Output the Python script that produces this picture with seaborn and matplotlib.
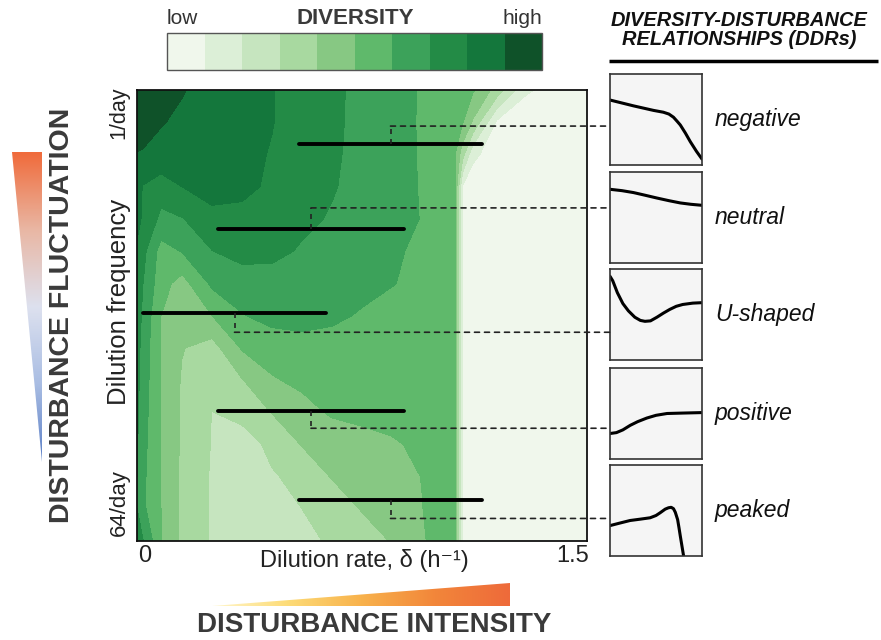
import matplotlib
matplotlib.use("Agg")
import matplotlib.pyplot as plt
import numpy as np
import seaborn as sns
from matplotlib import transforms
from matplotlib.colors import LinearSegmentedColormap
from matplotlib.patches import ConnectionPatch, Polygon

sns.set_theme(style="white")
plt.rcParams["font.family"] = ["Liberation Sans", "DejaVu Sans"]

# ---------------------------------------------------------------------------
# Data
# ---------------------------------------------------------------------------
# dilution rate (h^-1) columns and dilution-frequency rows (0 = 1/day ... 6 = 64/day)
rate = [0, 0.02, 0.08, 0.15, 0.25, 0.35, 0.45, 0.55, 0.65, 0.75, 0.85, 0.95,
        1.02, 1.06, 1.085, 1.12, 1.2, 1.3, 1.5]
freq_row = [-0.5, 0, 0.5, 1, 1.5, 2, 2.5, 3, 3.5, 4, 4.5, 5, 5.5, 6, 6.5]

# diversity level (0 = low ... 10 = high) on that grid
diversity = [
    [9.8, 9.7, 9.4, 9.05, 8.72, 8.38, 8.04, 7.62, 7.19, 6.76, 6.35, 5.92, 5.59, 5.40, 5.28, 5.11, 3.58, 1.08, 0.4],
    [9.6, 9.45, 9.05, 8.85, 8.57, 8.30, 8.03, 7.61, 7.17, 6.76, 6.35, 5.91, 5.47, 5.21, 5.05, 3.86, 0.8, 0.5, 0.4],
    [8.95, 8.9, 8.75, 8.6, 8.42, 8.22, 7.95, 7.53, 7.13, 6.74, 6.35, 5.92, 5.33, 5.0, 3.4, 1.2, 0.5, 0.4, 0.4],
    [8.3, 7.95, 7.5, 8.0, 8.55, 8.3, 7.8, 7.42, 7.07, 6.71, 6.34, 5.94, 5.35, 5.05, 0.9, 0.5, 0.4, 0.4, 0.4],
    [8.2, 7.9, 6.75, 6.95, 7.6, 7.65, 7.45, 7.2, 6.92, 6.55, 6.28, 5.97, 5.45, 5.05, 0.9, 0.5, 0.4, 0.4, 0.4],
    [7.9, 7.3, 5.6, 6.05, 6.98, 7.35, 7.25, 6.9, 6.65, 6.4, 6.15, 5.8, 5.45, 5.05, 0.9, 0.5, 0.4, 0.4, 0.4],
    [7.6, 7.0, 5.4, 4.6, 6.2, 6.5, 6.6, 6.6, 6.5, 6.3, 6.05, 5.7, 5.45, 5.05, 0.9, 0.5, 0.4, 0.4, 0.4],
    [7.5, 6.8, 5.0, 4.5, 5.0, 5.95, 6.3, 6.4, 6.2, 5.9, 5.6, 5.4, 5.3, 5.05, 0.9, 0.5, 0.4, 0.4, 0.4],
    [7.4, 6.6, 4.95, 4.05, 3.6, 5.1, 5.5, 5.6, 5.6, 5.55, 5.5, 5.45, 5.35, 5.05, 0.9, 0.5, 0.4, 0.4, 0.4],
    [7.3, 6.5, 5.0, 3.9, 3.5, 3.95, 4.9, 5.25, 5.45, 5.5, 5.5, 5.45, 5.35, 5.05, 0.9, 0.5, 0.4, 0.4, 0.4],
    [7.2, 6.4, 5.0, 3.85, 2.98, 3.5, 4.03, 4.6, 5.15, 5.35, 5.45, 5.45, 5.4, 5.05, 0.9, 0.5, 0.4, 0.4, 0.4],
    [7.1, 6.3, 5.0, 3.85, 2.95, 2.25, 3.4, 4.04, 4.3, 4.55, 4.85, 5.25, 5.45, 5.05, 0.9, 0.5, 0.4, 0.4, 0.4],
    [7.0, 6.2, 5.0, 3.8, 2.9, 2.5, 2.85, 3.45, 4.05, 4.35, 4.65, 5.02, 5.4, 5.05, 0.9, 0.5, 0.4, 0.4, 0.4],
    [7.0, 6.2, 5.0, 3.8, 2.9, 2.55, 2.4, 3.0, 3.5, 4.05, 4.5, 4.98, 5.4, 5.05, 0.9, 0.5, 0.4, 0.4, 0.4],
    [7.3, 7.05, 5.05, 3.8, 2.9, 2.6, 2.4, 2.7, 3.15, 3.6, 4.05, 4.9, 5.4, 5.05, 0.9, 0.5, 0.4, 0.4, 0.4],
]
diversity_colors = ["#f0f7ec", "#dcefd7", "#c6e5bf", "#a8d9a0", "#87c883",
                    "#5fb96b", "#3ca25a", "#238b46", "#14773c", "#0f5229"]

# DDR transects (dilution-rate ranges at a fixed dilution frequency)
ddr_names = ["negative", "neutral", "U-shaped", "positive", "peaked"]
ddr_row = [0.34, 1.66, 2.96, 4.48, 5.87]
ddr_start = [0.54, 0.27, 0.02, 0.27, 0.54]
ddr_end = [1.15, 0.89, 0.63, 0.89, 1.15]
ddr_link_row = [0.06, 1.33, 3.26, 4.75, 6.15]

# DDR curve shapes (fraction of the small panels)
neg_x = [0, 0.255, 0.473, 0.58, 0.64, 0.69, 0.73, 0.764, 0.82, 0.873, 0.94, 1.0]
neg_y = [0.714, 0.65, 0.60, 0.58, 0.56, 0.525, 0.48, 0.44, 0.35, 0.256, 0.15, 0.065]
neu_x = [0, 0.13, 0.255, 0.38, 0.51, 0.64, 0.764, 0.88, 1.0]
neu_y = [0.81, 0.795, 0.774, 0.745, 0.714, 0.685, 0.66, 0.645, 0.634]
ush_x = [0, 0.03, 0.08, 0.14, 0.2, 0.27, 0.33, 0.38, 0.44, 0.51, 0.58, 0.65, 0.72,
         0.79, 0.9, 1.0]
ush_y = [0.92, 0.87, 0.74, 0.62, 0.54, 0.47, 0.435, 0.425, 0.43, 0.47, 0.515, 0.556,
         0.59, 0.61, 0.625, 0.63]
pos_x = [0, 0.07, 0.14, 0.22, 0.3, 0.4, 0.5, 0.62, 0.8, 1.0]
pos_y = [0.28, 0.29, 0.32, 0.37, 0.41, 0.45, 0.48, 0.50, 0.505, 0.51]
pk_x = [0, 0.1, 0.218, 0.33, 0.436, 0.5, 0.545, 0.6, 0.636, 0.665, 0.69, 0.71, 0.735,
        0.75, 0.764, 0.8]
pk_y = [0.334, 0.36, 0.39, 0.405, 0.42, 0.445, 0.475, 0.515, 0.53, 0.535, 0.52, 0.48,
        0.40, 0.31, 0.22, 0.0]
ddr_curves = [(neg_x, neg_y), (neu_x, neu_y), (ush_x, ush_y), (pos_x, pos_y), (pk_x, pk_y)]

# ---------------------------------------------------------------------------
# Figure
# ---------------------------------------------------------------------------
W, H = 881, 640
fig = plt.figure(figsize=(W / 100, H / 100), dpi=100)


def px_axes(left, top, width, height, **kw):
    # axes placed in pixel units (from the top-left corner)
    return fig.add_axes([left / W, 1 - (top + height) / H, width / W, height / H], **kw)


# decoration layer in pixel coordinates
deco = fig.add_axes([0, 0, 1, 1], zorder=-1)
deco.axis("off")

# main diversity map
ax = px_axes(137, 90, 450, 451)
X, Y = np.meshgrid(rate, freq_row)
cs = ax.contourf(X, Y, np.array(diversity), levels=np.arange(11), colors=diversity_colors)
ax.set_xlim(0, 1.5)
ax.set_ylim(6.5, -0.5)
ax.set_xticks([])
ax.set_yticks([])
for s in ax.spines.values():
    s.set_color("#111111")
    s.set_linewidth(1.3)

ax.hlines(ddr_row, ddr_start, ddr_end, color="black", lw=2.8, capstyle="round")

# colorbar
cax = px_axes(167, 33, 375, 37)
cb = fig.colorbar(cs, cax=cax, orientation="horizontal")
cb.set_ticks([])
cb.outline.set_edgecolor("#555555")
cb.outline.set_linewidth(1)
deco.text(167, 18, "low", ha="left", va="center", fontsize=15, color="#333333")
deco.text(542, 18, "high", ha="right", va="center", fontsize=15, color="#333333")
deco.text(355, 19, "DIVERSITY", ha="center", va="center", fontsize=16,
          fontweight="bold", color="#3a3a3a")

# small DDR panels
panel_tops = [74, 172, 269, 368, 465]
for i, name in enumerate(ddr_names):
    pax = px_axes(610, panel_tops[i], 92, 91)
    pax.set_facecolor("#f5f5f5")
    cx, cy = ddr_curves[i]
    sns.lineplot(x=cx, y=cy, ax=pax, color="black", lw=2.2, estimator=None, sort=False)
    pax.set_xlim(0, 1)
    pax.set_ylim(0, 1)
    pax.set_xticks([])
    pax.set_yticks([])
    for s in pax.spines.values():
        s.set_color("#333333")
        s.set_linewidth(1.2)
    pax.text(1.14, 0.5, name, transform=pax.transAxes, ha="left", va="center",
             fontsize=16.5, style="italic", color="#111111")

    mid = (ddr_start[i] + ddr_end[i]) / 2
    ax.plot([mid, mid], [ddr_row[i], ddr_link_row[i]], color="#222222", lw=1.2,
            ls=(0, (3, 3)))
    link = ConnectionPatch(
        xyA=(mid, ddr_link_row[i]), coordsA=ax.transData,
        xyB=(0, ddr_link_row[i]),
        coordsB=transforms.blended_transform_factory(pax.transAxes, ax.transData),
        color="#222222", lw=1.2, ls=(0, (3, 3)))
    fig.add_artist(link)

deco.text(739, 30, "DIVERSITY-DISTURBANCE\nRELATIONSHIPS (DDRs)", ha="center",
          va="center", fontsize=14.4, fontweight="bold", style="italic",
          color="#111111", linespacing=1.05)
deco.plot([609, 878], [61, 61], color="black", lw=2.5, solid_capstyle="butt")

# axis annotations
deco.text(145, 556, "0", ha="center", va="center", fontsize=17, color="#222222")
deco.text(589, 556, "1.5", ha="right", va="center", fontsize=17, color="#222222")
deco.text(364, 560, "Dilution rate, δ (h⁻¹)", ha="center", va="center",
          fontsize=17, color="#222222")
deco.text(119, 113, "1/day", ha="center", va="center", rotation=90, fontsize=15.5,
          color="#222222")
deco.text(119, 503, "64/day", ha="center", va="center", rotation=90, fontsize=16,
          color="#222222")
deco.text(119, 302, "Dilution frequency", ha="center", va="center", rotation=90,
          fontsize=18.5, color="#222222")

# disturbance gradients
fluct_cmap = LinearSegmentedColormap.from_list(
    "fluct", ["#5b7fc6", "#a9bde3", "#dde1ef", "#e9b7a4", "#f06b3b"])
grad_v = np.linspace(0, 1, 256).reshape(-1, 1)
im = deco.imshow(grad_v, extent=(12, 42, 462, 152), origin="lower", aspect="auto",
                 cmap=fluct_cmap)
tri = Polygon([(12, 152), (42, 152), (42, 462)], closed=True, transform=deco.transData,
              facecolor="none", edgecolor="none")
deco.add_patch(tri)
im.set_clip_path(tri)
deco.text(62, 315, "DISTURBANCE FLUCTUATION", ha="center", va="center", rotation=90,
          fontsize=20.5, fontweight="bold", color="#3a3a3a")

inten_cmap = LinearSegmentedColormap.from_list(
    "inten", ["#fff6cc", "#fddc78", "#f8b24c", "#f2863a", "#ee6a3a"])
grad_h = np.linspace(0, 1, 256).reshape(1, -1)
im2 = deco.imshow(grad_h, extent=(212, 510, 606, 583), origin="lower", aspect="auto",
                  cmap=inten_cmap)
tri2 = Polygon([(212, 606), (510, 606), (510, 583)], closed=True,
               transform=deco.transData, facecolor="none", edgecolor="none")
deco.add_patch(tri2)
im2.set_clip_path(tri2)
deco.text(374, 625, "DISTURBANCE INTENSITY", ha="center", va="center",
          fontsize=20, fontweight="bold", color="#3a3a3a")

deco.set_xlim(0, W)
deco.set_ylim(H, 0)

fig.savefig("out.png", dpi=100)
